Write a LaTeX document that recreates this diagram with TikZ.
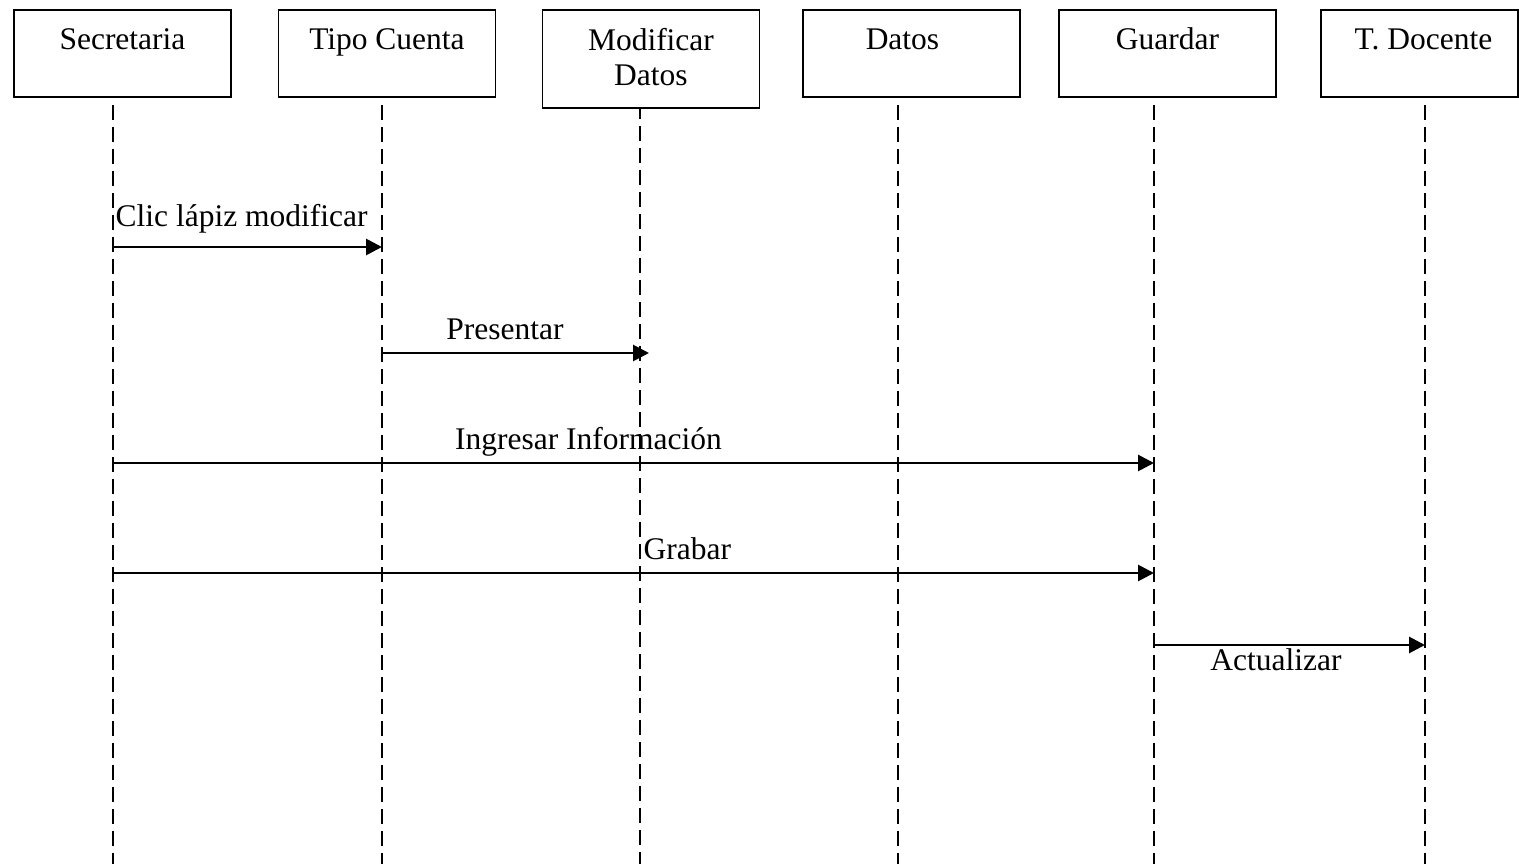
\documentclass[tikz,border=0pt]{standalone}
\usepackage{fontspec}
\setmainfont{Liberation Serif}
\usetikzlibrary{arrows.meta}
\begin{document}
\begin{tikzpicture}[
 font=\fontsize{8.96}{9.96}\selectfont,
 obj/.style={draw, line width=0.55pt, minimum width=2.17cm, minimum height=0.87cm, anchor=north west, inner sep=0},
 objlbl/.style={anchor=base, inner sep=0, yshift=-0.41cm},
 objlbltwo/.style={anchor=north, inner sep=0, yshift=-0.19cm, align=center},
 lifeline/.style={line width=0.5pt, dash pattern=on 0.15cm off 0.07cm, dash phase=0.15cm},
 msg/.style={line width=0.8pt, -{Triangle[length=0.16cm,width=0.16cm]}},
 msglbl/.style={inner sep=0}
]
\useasboundingbox (0,0) rectangle (15.19,-8.64);
% objects
\node[obj, label={[objlbl, name=secL]north:Secretaria}] (sec) at (0.13,-0.09) {};
\node[obj, label={[objlbl, name=tipL]north:Tipo Cuenta}] (tip) at (2.775,-0.09) {};
\node[obj, minimum height=0.98cm, label={[objlbltwo, name=modL]north:Modificar\\Datos}] (mod) at (5.415,-0.09) {};
\node[obj, label={[objlbl, name=datL, xshift=-0.09cm]north:Datos}] (dat) at (8.02,-0.09) {};
\node[obj, label={[objlbl, name=guaL]north:Guardar}] (gua) at (10.58,-0.09) {};
\node[obj, minimum width=1.97cm, label={[objlbl, name=docL, xshift=0.04cm]north:T. Docente}] (doc) at (13.2,-0.09) {};
% lifeline ends
\coordinate (secE) at (1.13,-8.64);
\coordinate (tipE) at (3.82,-8.64);
\coordinate (modE) at (6.40,-8.64);
\coordinate (datE) at (8.98,-8.64);
\coordinate (guaE) at (11.54,-8.64);
\coordinate (docE) at (14.25,-8.64);
\draw[lifeline] (sec.south -| secE) -- (secE);
\draw[lifeline] (tip.south -| tipE) -- (tipE);
\draw[lifeline, dash phase=0.05cm] (mod.south -| modE) -- (modE);
\draw[lifeline] (dat.south -| datE) -- (datE);
\draw[lifeline] (gua.south -| guaE) -- (guaE);
\draw[lifeline] (doc.south -| docE) -- (docE);
% message levels
\coordinate (m1) at (0,-2.47);
\coordinate (m2) at (0,-3.53);
\coordinate (m3) at (0,-4.63);
\coordinate (m4) at (0,-5.73);
\coordinate (m5) at (0,-6.45);
\draw[msg] (secE |- m1) -- (tipE |- m1);
\draw[msg, shorten >=-0.09cm] (tipE |- m2) -- (modE |- m2);
\draw[msg] (secE |- m3) -- (guaE |- m3);
\draw[msg] (secE |- m4) -- (guaE |- m4);
\draw[msg] (guaE |- m5) -- (docE |- m5);
% labels
\node[msglbl, anchor=base west] (l1) at (1.15,-2.27) {Clic lápiz modificar};
\node[msglbl, anchor=base] (l2) at (5.05,-3.40) {Presentar};
\node[msglbl, anchor=base] (l3) at (5.885,-4.50) {Ingresar Información};
\node[msglbl, anchor=base west] (l4) at (6.43,-5.60) {Grabar};
\node[msglbl, anchor=base] (l5) at (12.76,-6.70) {Actualizar};
\end{tikzpicture}
\end{document}
